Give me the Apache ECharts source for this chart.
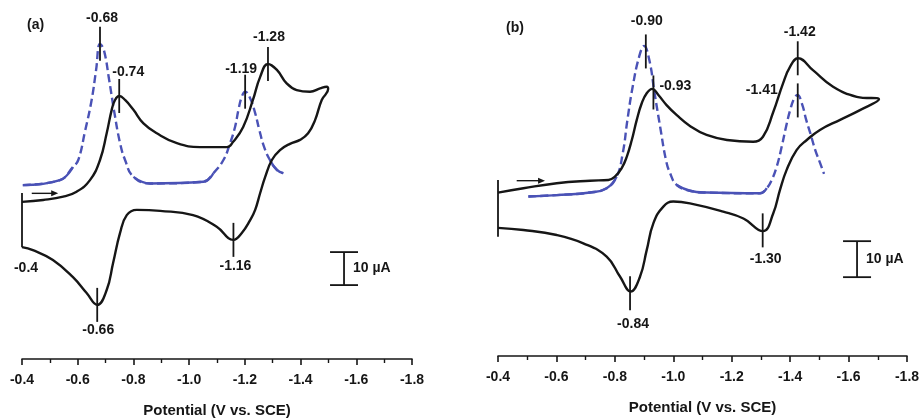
<!DOCTYPE html>
<html><head><meta charset="utf-8">
<script src="https://cdn.jsdelivr.net/npm/echarts/dist/echarts.min.js"></script>
<style>html,body{margin:0;padding:0;background:#fff}#c{width:921px;height:418px}</style>
</head><body><div id="c"></div>
<script>
// ---------- data ----------
const xTickValues = [-0.4, -0.6, -0.8, -1.0, -1.2, -1.4, -1.6, -1.8];
const axisTitle = 'Potential (V vs. SCE)';
const panelLabels = ['(a)', '(b)'];

// panel (a): cyclic voltammogram (V, µA)
const cvA = [[-0.400,47.6],[-0.476,48.2],[-0.548,49.2],[-0.596,50.7],[-0.644,54.2],[-0.680,60.3],[-0.704,68.4],[-0.722,75.5],[-0.734,78.5],[-0.749,79.7],[-0.770,78.5],[-0.800,75.5],[-0.836,71.4],[-0.884,68.4],[-0.956,65.4],[-1.039,64.2],[-1.136,64.2],[-1.158,65.8],[-1.194,70.3],[-1.229,78.5],[-1.255,85.5],[-1.283,89.4],[-1.315,87.6],[-1.350,83.5],[-1.386,81.5],[-1.434,81.0],[-1.470,82.0],[-1.494,82.5],[-1.499,81.8],
[-1.476,78.5],[-1.452,72.4],[-1.427,68.4],[-1.398,66.4],[-1.362,65.2],[-1.326,63.3],[-1.297,60.3],[-1.273,55.2],[-1.255,50.3],[-1.237,45.2],[-1.219,42.1],[-1.189,38.2],[-1.159,36.1],[-1.099,40.1],[-1.014,43.6],[-0.896,44.9],[-0.812,45.2],[-0.776,43.6],[-0.752,38.2],[-0.727,29.1],[-0.704,20.9],[-0.670,16.4],[-0.632,20.0],[-0.583,24.8],[-0.511,30.0],[-0.439,33.0],[-0.400,33.9]];
// panel (a): differential pulse voltammogram
const dpvA = [[-0.403,52.7],[-0.536,54.2],[-0.583,58.2],[-0.602,60.3],[-0.626,68.9],[-0.650,78.5],[-0.666,87.6],[-0.680,95.5],[-0.694,93.6],[-0.713,84.5],[-0.730,75.5],[-0.752,65.4],[-0.770,60.3],[-0.800,55.2],[-0.860,53.2],[-1.051,53.7],[-1.087,56.3],[-1.123,60.3],[-1.147,65.4],[-1.165,70.4],[-1.177,75.5],[-1.189,79.5],[-1.201,81.0],[-1.219,79.0],[-1.237,74.5],[-1.252,69.4],[-1.269,64.3],[-1.290,60.3],[-1.315,57.3],[-1.338,56.3]];

// panel (b)
const cvB = [[-0.400,45.4],[-0.487,46.6],[-0.601,48.0],[-0.715,48.7],[-0.778,48.9],[-0.800,49.8],[-0.823,52.1],[-0.841,55.4],[-0.858,60.0],[-0.875,65.6],[-0.892,70.2],[-0.909,73.0],[-0.928,74.2],[-0.949,72.5],[-0.977,69.7],[-1.012,66.9],[-1.057,63.9],[-1.114,61.4],[-1.184,60.0],[-1.273,59.5],[-1.307,60.9],[-1.341,67.5],[-1.376,75.8],[-1.400,80.4],[-1.427,82.7],[-1.478,79.4],[-1.547,74.8],[-1.628,72.0],[-1.704,71.3],
[-1.639,68.3],[-1.571,65.6],[-1.502,62.8],[-1.457,60.0],[-1.422,57.2],[-1.388,51.7],[-1.365,46.1],[-1.342,39.6],[-1.307,34.7],[-1.240,38.2],[-1.171,40.1],[-1.057,42.4],[-1.000,42.9],[-0.966,41.5],[-0.932,36.9],[-0.909,29.4],[-0.886,22.0],[-0.854,17.9],[-0.818,22.0],[-0.772,27.6],[-0.692,31.3],[-0.601,33.6],[-0.487,35.0],[-0.400,35.6]];
const dpvB = [[-0.504,44.3],[-0.601,44.7],[-0.715,45.4],[-0.772,46.6],[-0.806,49.8],[-0.827,56.3],[-0.843,65.6],[-0.861,74.8],[-0.883,83.1],[-0.900,86.1],[-0.918,82.2],[-0.936,73.0],[-0.955,63.7],[-0.975,54.4],[-0.989,50.8],[-1.012,47.5],[-1.057,45.9],[-1.114,45.4],[-1.297,45.2],[-1.320,46.6],[-1.337,48.9],[-1.354,52.6],[-1.371,58.1],[-1.386,63.7],[-1.400,68.3],[-1.414,71.6],[-1.425,72.5],[-1.440,70.2],[-1.455,65.6],[-1.469,61.9],[-1.486,57.2],[-1.503,53.5],[-1.516,50.6]];

// peak markers (V, µA) and their labels
const peakA = [[-0.680,95.5],[-0.749,79.7],[-1.201,81.0],[-1.283,89.4],[-1.159,36.1],[-0.670,16.4]];
const peakLabelsA = ['-0.68','-0.74','-1.19','-1.28','-1.16','-0.66'];
const peakB = [[-0.906,84.6],[-0.932,73.2],[-1.426,82.7],[-1.426,71.0],[-1.306,34.9],[-0.852,17.4]];
const peakLabelsB = ['-0.90','-0.93','-1.42','-1.41','-1.30','-0.84'];

// start bars (V, µA low, µA high), scale bars (V, µA low, µA high), scan arrows
const startBarA = [-0.4, 33.9, 50.3];
const startLabelA = '-0.4';
const startBarB = [-0.4, 33.1, 48.9];
const scaleBarA = [-1.556, 22.4, 32.4];
const scaleBarB = [-1.629, 21.9, 31.9];
const scaleLabel = '10 \u00b5A';
const arrowA = [[-0.435,50.2],[-0.530,50.2]];
const arrowB = [[-0.464,48.7],[-0.561,48.7]];

// ---------- style ----------
const INK = '#161616';
const BLUE = '#4a52b6';
const FAM = '"Liberation Sans", Arial, Helvetica, sans-serif';
const TICK = 17;
const SMOOTH = 0.45;
const labelPlaceA = [
  {pos:'top', dx:2, dy:-19}, {pos:'top', dx:9, dy:-16.5}, {pos:'top', dx:-4, dy:-16},
  {pos:'top', dx:1, dy:-20}, {pos:'bottom', dx:2, dy:19}, {pos:'bottom', dx:1, dy:18}];
const labelPlaceB = [
  {pos:'top', dx:1, dy:-23.5}, {pos:'right', dx:6, dy:-6.5}, {pos:'top', dx:2, dy:-19},
  {pos:'left', dx:-20, dy:-10.5}, {pos:'bottom', dx:3, dy:21.5}, {pos:'bottom', dx:3, dy:23.5}];
// index ranges of the flat (solid-looking) parts of the DPV traces
const dpvSolidA = [[0,2],[13,16],[27,29]];
const dpvSolidB = [[0,4],[15,19]];
const yMax = [100, 90];

const txt = (text, x, y, align, va) => ({type:'text', style:{text, x, y, align, verticalAlign:va, fill:INK, fontSize:14, fontWeight:'bold', fontFamily:FAM}});
const seg = (x1,y1,x2,y2,w) => ({type:'line', shape:{x1,y1,x2,y2}, style:{stroke:INK, lineWidth:w||1.8}});

function lineSeries(gi, data, color, dashed, z) {
  return {type:'line', xAxisIndex:gi, yAxisIndex:gi, data, smooth:SMOOTH, showSymbol:false, symbol:'none',
    silent:true, animation:false, z:z||3,
    lineStyle:{color, width:2.4, type: dashed ? [8,4] : 'solid', cap:'butt', join:'round'}};
}
function dpvSeries(gi, arr, solid) {
  const out = [lineSeries(gi, arr, BLUE, true, 2)];
  solid.forEach(r => out.push(lineSeries(gi, arr.slice(r[0], r[1]+1), BLUE, false, 2)));
  return out;
}
function markerSeries(gi, pts, labels, place) {
  return {type:'custom', xAxisIndex:gi, yAxisIndex:gi, data:pts, silent:true, animation:false, z:6,
    renderItem(params, api) {
      const i = params.dataIndex, pl = place[i];
      const p = api.coord([api.value(0), api.value(1)]);
      const align = pl.pos==='right' ? 'left' : pl.pos==='left' ? 'right' : 'center';
      const va = pl.pos==='top' ? 'bottom' : pl.pos==='bottom' ? 'top' : 'middle';
      return {type:'group', children:[
        seg(p[0], p[1]-TICK, p[0], p[1]+TICK),
        txt(labels[i], p[0]+pl.dx, p[1]+pl.dy, align, va)]};
    }};
}
function startBarSeries(gi, bar, label) {
  return {type:'custom', xAxisIndex:gi, yAxisIndex:gi, data:[bar], silent:true, animation:false, z:6,
    renderItem(params, api) {
      const lo = api.coord([api.value(0), api.value(1)]), hi = api.coord([api.value(0), api.value(2)]);
      const ch = [seg(lo[0], lo[1], hi[0], hi[1])];
      if (label) ch.push(txt(label, lo[0]+4, lo[1]+14, 'center', 'top'));
      return {type:'group', children:ch};
    }};
}
function scaleBarSeries(gi, bar) {
  return {type:'custom', xAxisIndex:gi, yAxisIndex:gi, data:[bar], silent:true, animation:false, z:6,
    renderItem(params, api) {
      const lo = api.coord([api.value(0), api.value(1)]), hi = api.coord([api.value(0), api.value(2)]);
      return {type:'group', children:[
        seg(lo[0], lo[1], hi[0], hi[1]),
        seg(lo[0]-14, lo[1], lo[0]+14, lo[1]),
        seg(hi[0]-14, hi[1], hi[0]+14, hi[1]),
        txt(scaleLabel, lo[0]+9, (lo[1]+hi[1])/2, 'left', 'middle')]};
    }};
}
function arrowSeries(gi, arr) {
  return {type:'custom', xAxisIndex:gi, yAxisIndex:gi, data:[[arr[0][0], arr[0][1], arr[1][0], arr[1][1]]],
    silent:true, animation:false, z:6,
    renderItem(params, api) {
      const a = api.coord([api.value(0), api.value(1)]), b = api.coord([api.value(2), api.value(3)]);
      return {type:'group', children:[
        seg(a[0], a[1], b[0]-5, b[1], 1.4),
        {type:'polygon', shape:{points:[[b[0], b[1]], [b[0]-7, b[1]-3], [b[0]-7, b[1]+3]]}, style:{fill:INK}}]};
    }};
}

const grids = [
  {left:22, right:509, top:29, bottom:59, containLabel:false, outerBoundsMode:'none'},
  {left:498, right:14, top:32, bottom:62, containLabel:false, outerBoundsMode:'none'}];
const xAxes = grids.map((g, gi) => ({
  gridIndex:gi, type:'value', inverse:true,
  min:Math.min(...xTickValues), max:Math.max(...xTickValues), interval:0.2,
  axisLine:{show:true, onZero:false, lineStyle:{color:INK, width:1.6}},
  axisTick:{show:true, length:6, lineStyle:{color:INK, width:1.6}},
  minorTick:{show:true, splitNumber:2, length:4, lineStyle:{color:INK, width:1.4}},
  splitLine:{show:false}, minorSplitLine:{show:false},
  axisLabel:{formatter:v => v.toFixed(1), color:INK, fontSize:14, fontWeight:'bold', fontFamily:FAM, margin:14},
  name:axisTitle, nameLocation:'middle', nameGap:44,
  nameTextStyle:{color:INK, fontSize:15, fontWeight:'bold', fontFamily:FAM}
}));
const yAxes = grids.map((g, gi) => ({gridIndex:gi, type:'value', min:0, max:yMax[gi], show:false}));

const series = [].concat(
  dpvSeries(0, dpvA, dpvSolidA),
  [lineSeries(0, cvA, INK, false)],
  dpvSeries(1, dpvB, dpvSolidB),
  [lineSeries(1, cvB, INK, false)],
  [markerSeries(0, peakA, peakLabelsA, labelPlaceA), markerSeries(1, peakB, peakLabelsB, labelPlaceB),
   startBarSeries(0, startBarA, startLabelA), startBarSeries(1, startBarB, null),
   scaleBarSeries(0, scaleBarA), scaleBarSeries(1, scaleBarB),
   arrowSeries(0, arrowA), arrowSeries(1, arrowB)]
);

const chart = echarts.init(document.getElementById('c'), null, {renderer:'canvas'});
chart.setOption({
  backgroundColor:'#ffffff', animation:false,
  title: [
    {text:panelLabels[0], left:27, top:18, padding:0, textStyle:{color:INK, fontSize:14, fontWeight:'bold', fontFamily:FAM}},
    {text:panelLabels[1], left:506, top:21, padding:0, textStyle:{color:INK, fontSize:14, fontWeight:'bold', fontFamily:FAM}}],
  grid:grids, xAxis:xAxes, yAxis:yAxes, series
});
</script></body></html>
